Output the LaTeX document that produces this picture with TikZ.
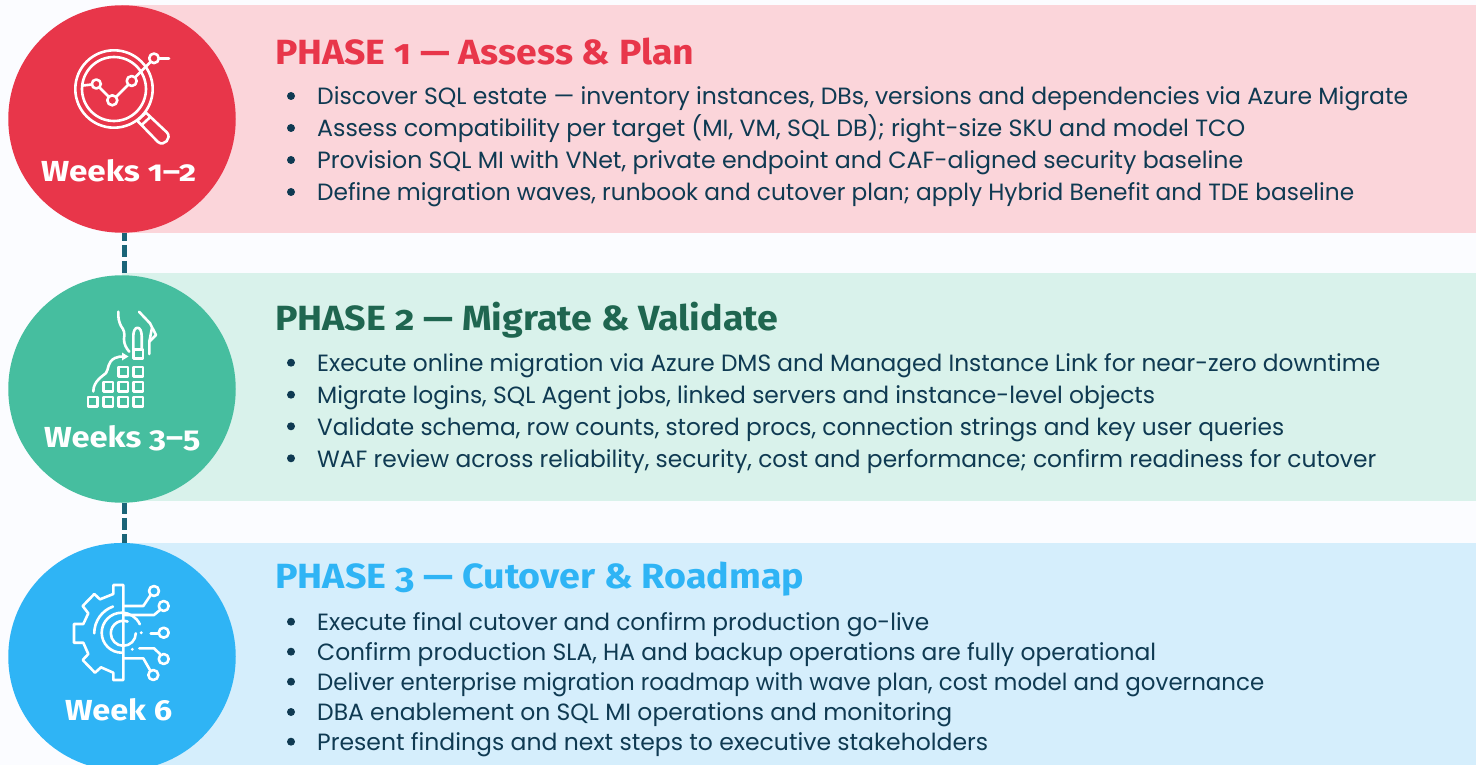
\documentclass[tikz,border=0pt]{standalone}
\usepackage{graphicx}
\usepackage{fontspec}
\setmainfont{Poppins}
\newfontfamily\headfont[Numbers=OldStyle]{Fira Sans}
\definecolor{pagebg}{HTML}{FBFCFF}
\definecolor{redm}{HTML}{E8364A}
\definecolor{redl}{HTML}{FBD5DA}
\definecolor{grnm}{HTML}{46BE9F}
\definecolor{grnl}{HTML}{D9F2EB}
\definecolor{grnd}{HTML}{1F6650}
\definecolor{blum}{HTML}{2FB4F5}
\definecolor{blul}{HTML}{D5EEFC}
\definecolor{ink}{HTML}{0F3A52}
\definecolor{teal}{HTML}{1A6478}
\tikzset{
 x=1pt,y=-1pt,
 band/.style={anchor=north west,minimum width=1354pt,inner sep=0pt,outer sep=0pt},
 disc/.style={circle,minimum size=227.5pt,inner sep=0pt,outer sep=0pt},
 head/.style={anchor=west,inner sep=0pt,font=\headfont\bfseries\fontsize{35}{38}\selectfont},
 week/.style={text=white,anchor=west,inner sep=0pt,font=\headfont\bfseries\fontsize{29}{32}\selectfont},
 item/.style={anchor=base west,inner sep=0pt,text=ink,font=\fontsize{23.5}{28}\selectfont},
 dot/.style={circle,fill=ink,minimum size=8pt,inner sep=0pt},
 ico/.style={draw=white,line width=2.6pt,line join=round,line cap=round,fill=none},
 link/.style={draw=teal,line width=4.5pt,dash pattern=on 12pt off 4pt}
}
\newcommand{\bul}[4]{\node[dot] (#4d) at (291,#1) {}; \node[item] (#4) at (317,#1+8.7) {\resizebox{#2pt}{\height}{#3}};}
\newcommand{\fit}[2]{\resizebox{#1pt}{\height}{#2}}
\begin{document}
\begin{tikzpicture}
\useasboundingbox (0,0) rectangle (1476,765);
\fill[pagebg] (0,0) rectangle (1476,765);
\begin{scope}
\clip (0,0) rectangle (1476,765);
\node[band,fill=redl,minimum height=228pt] (b1) at (122,5) {};
\node[band,fill=grnl,minimum height=228pt] (b2) at (122,273) {};
\node[band,fill=blul,minimum height=222pt] (b3) at (122,543) {};
\node[disc,fill=redm] (c1) at (122,119) {};
\node[disc,fill=grnm] (c2) at (122,389) {};
\node[disc,fill=blum] (c3) at (122,656.7) {};
\end{scope}
\draw[link,dash phase=4pt] ([xshift=2.5pt]c1.south) -- ([xshift=2.5pt]c2.north);
\draw[link,dash phase=1pt] ([xshift=2.5pt]c2.south) -- ([xshift=2.5pt]c3.north);
\node[week] (w1) at (41,171) {\fit{155}{Weeks 1–2}};
\node[week] (w2) at (44,438) {\fit{156}{Weeks 3–5}};
\node[week] (w3) at (65,710) {\fit{107}{Week 6}};
\node[head,text=redm] (h1) at (275,51.5) {\fit{419}{PHASE 1 — Assess \& Plan}};
\node[head,text=grnd] (h2) at (275,320.5) {\fit{503}{PHASE 2 — Migrate \& Validate}};
\node[head,text=blum] (h3) at (275,579.5) {\fit{529}{PHASE 3 — Cutover \& Roadmap}};
\bul{96}{1091}{Discover SQL estate — inventory instances, DBs, versions and dependencies via Azure Migrate}{a}
\bul{128}{928}{Assess compatibility per target (MI, VM, SQL DB); right-size SKU and model TCO}{b}
\bul{160}{926}{Provision SQL MI with VNet, private endpoint and CAF-aligned security baseline}{c}
\bul{192}{1037}{Define migration waves, runbook and cutover plan; apply Hybrid Benefit and TDE baseline}{e}
\bul{362.7}{1063}{Execute online migration via Azure DMS and Managed Instance Link for near-zero downtime}{f}
\bul{394.7}{838}{Migrate logins, SQL Agent jobs, linked servers and instance-level objects}{g}
\bul{426.3}{967}{Validate schema, row counts, stored procs, connection strings and key user queries}{h}
\bul{458.3}{1059}{WAF review across reliability, security, cost and performance; confirm readiness for cutover}{i}
\bul{621.7}{612}{Execute final cutover and confirm production go-live}{j}
\bul{651.7}{839}{Confirm production SLA, HA and backup operations are fully operational}{k}
\bul{681.7}{947}{Deliver enterprise migration roadmap with wave plan, cost model and governance}{l}
\bul{712}{635}{DBA enablement on SQL MI operations and monitoring}{m}
\bul{741.7}{671}{Present findings and next steps to executive stakeholders}{n}
% icon 1
\draw[ico] (114,89) circle (38.7);
\draw[ico] (114,89) circle (32);
\draw[ico] (83,85.5) -- (92,84.5);
\draw[ico] (96.3,84) circle (4.5);
\draw[ico] (99.5,87.5) -- (109,97);
\draw[ico] (112.3,100.3) circle (5);
\draw[ico] (116,97) -- (128,85);
\draw[ico] (131.7,81) circle (5);
\draw[ico] (135.5,77) -- (150.5,62);
\draw[ico] (154,58.3) circle (4.8);
\draw[ico] (159,58.3) -- (169,58.3);
\draw[ico] (137.3,120.7) -- (146,112.7) -- (167,132.5) .. controls (172,138) and (164,147) .. (158,142) -- cycle;
\draw[ico] (141.7,125) -- (150,117.3);
% icon 2
\foreach \x/\y in {92.7/401.7,108.3/401.7,123.3/401.7,138.3/401.7,108.3/386.7,123.3/386.7,138.3/386.7,123.3/371.7,138.3/371.7,138.3/354}{
 \draw[ico,line width=2.6pt] (\x-4.6,\y-4.6) rectangle (\x+4.6,\y+4.6);
}
\draw[ico] (93.3,391.5) .. controls (93.3,381) and (103,376) .. (106,373) .. controls (109,369) and (107,362) .. (115,358) .. controls (118,356.5) and (121,356.5) .. (124,356.5);
\fill[white] (122,352.5) -- (128.5,356.5) -- (122,360.5) -- cycle;
\draw[ico] (118.3,311.7) .. controls (118,318) and (119,322) .. (121,326) .. controls (124,330) and (125,333) .. (124,339) .. controls (124,344) and (126,348) .. (129.3,351.7);
\draw[ico] (139,311.7) -- (150,323.3) -- (156,335) -- (149.3,341.7) -- (149.3,354);
\draw[ico] (152,328) -- (149.3,341.7);
\draw[ico] (133.3,349) -- (133.3,336) .. controls (133.3,325) and (141.7,325) .. (141.7,336) -- (141.7,349);
% icon 3
\draw[ico] (123.3,585) -- (113.3,585) -- (113.3,594) -- (100,599.3) -- (94.3,594) -- (82.7,606) -- (88.3,613.3) -- (83.3,624) -- (74,624) -- (74,642.7) -- (83.3,642.7) -- (88.3,654) -- (82.7,660) -- (95,672.7) -- (101,667.3) -- (113.3,672.7) -- (113.3,680) -- (123.3,680) -- cycle;
\draw[ico] (123.3,606) -- (143.3,606) -- (150.7,595);
\draw[ico] (154,591) circle (5);
\draw[ico] (123.3,615) -- (154,615) -- (160,610);
\draw[ico] (163.7,606) circle (5);
\draw[ico] (150.7,633.3) -- (158.7,633.3);
\draw[ico] (163.7,632.7) circle (5);
\draw[ico] (139.3,648.3) -- (154,648.3) -- (160,654);
\draw[ico] (163.7,659) circle (5);
\draw[ico] (123.3,658.3) -- (143.3,658.3) -- (150,670);
\draw[ico] (153.3,675) circle (5);
\draw[ico] (113,606.5) arc (-110:-180:28.5);
\draw[ico] (121.7,652.7) arc (-270:-25:20);
\draw[ico] (135.8,633.3) arc (0:290:12.5);
\fill[white] (141.3,632.7) circle (1.6) (132.3,649.3) circle (1.6);
\end{tikzpicture}
\end{document}
